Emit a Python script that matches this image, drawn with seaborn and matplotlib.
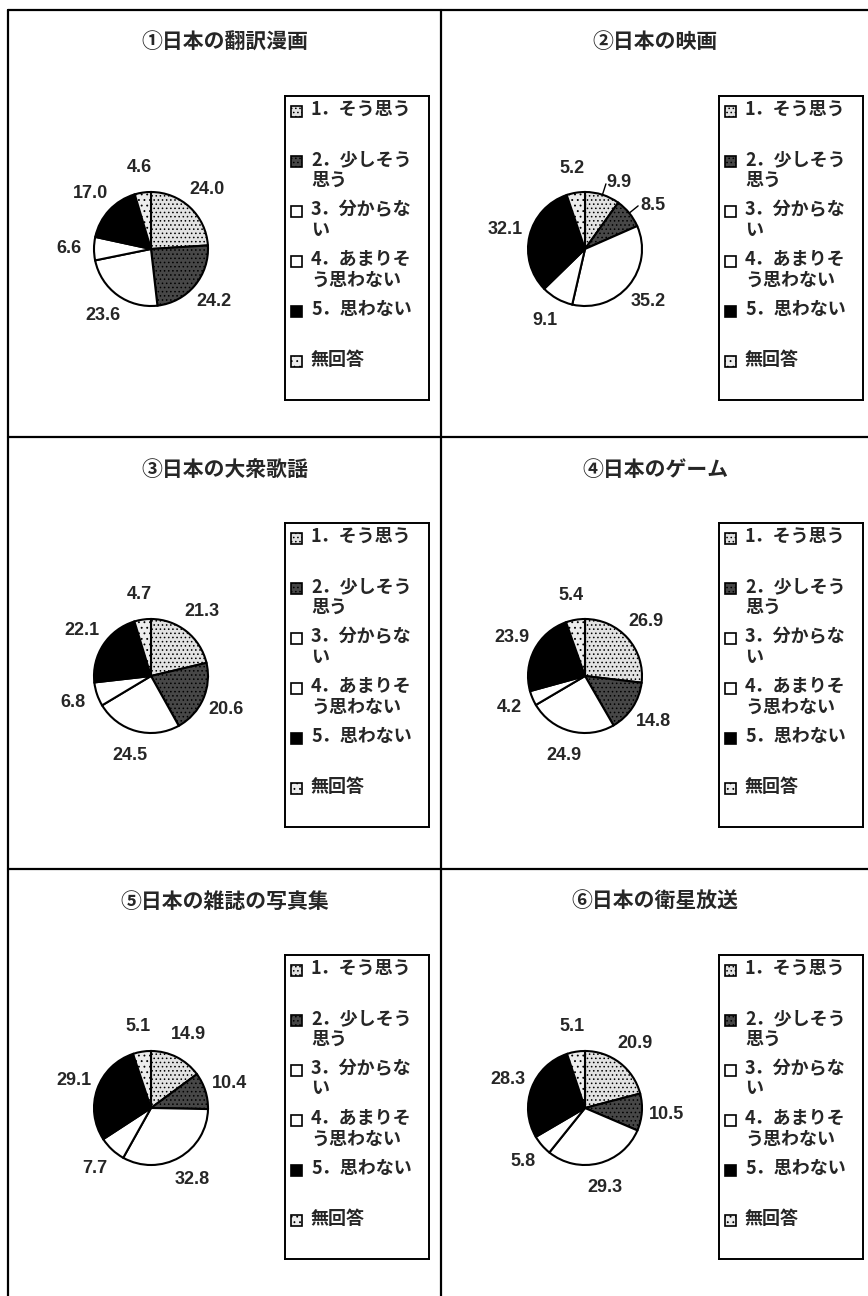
import numpy as np
import matplotlib
matplotlib.use('Agg')
import matplotlib.pyplot as plt
from matplotlib.patches import Rectangle
from matplotlib.lines import Line2D
import seaborn as sns

# survey answers (percent), one list per panel
titles = ['①日本の翻訳漫画', '②日本の映画', '③日本の大衆歌謡',
          '④日本のゲーム', '⑤日本の雑誌の写真集', '⑥日本の衛星放送']
categories = ['1．そう思う', '2．少しそう\n思う', '3．分からな\nい',
              '4．あまりそ\nう思わない', '5．思わない', '無回答']
manga = [24.0, 24.2, 23.6, 6.6, 17.0, 4.6]
movie = [9.9, 8.5, 35.2, 9.1, 32.1, 5.2]
songs = [21.3, 20.6, 24.5, 6.8, 22.1, 4.7]
games = [26.9, 14.8, 24.9, 4.2, 23.9, 5.4]
photo = [14.9, 10.4, 32.8, 7.7, 29.1, 5.1]
satellite = [20.9, 10.5, 29.3, 5.8, 28.3, 5.1]
panels = [manga, movie, songs, games, photo, satellite]

# slices that get a small leader line (panel index -> slice indices)
leaders = {1: [0, 1]}

sns.set_theme(style='white')
plt.rcParams['font.family'] = ['Noto Sans CJK JP', 'DejaVu Sans']
plt.rcParams['hatch.linewidth'] = 0.6

faces = ['#e2e2e2', '#474747', 'white', 'white', 'black', '#ededed']
hatches = ['....', '....', None, None, None, '...']

W, H = 868, 1296
fig = plt.figure(figsize=(W / 100, H / 100), dpi=100)
fig.patch.set_facecolor('white')


def fline(x0, y0, x1, y1):
    fig.add_artist(Line2D([x0 / W, x1 / W], [1 - y0 / H, 1 - y1 / H],
                          color='black', lw=1.6))


# panel frame
fline(8, 10, 868, 10)
fline(8, 10, 8, 1296)
fline(441, 10, 441, 1296)
fline(8, 437, 868, 437)
fline(8, 869, 868, 869)

row_top = [10, 437, 869]
col_pie = [151, 585]
col_title = [225, 655]
col_leg = [285, 719]
leg_w, leg_h = 144, 304
R = 57  # pie radius in px

for i, vals in enumerate(panels):
    r, c = divmod(i, 2)
    top = row_top[r]
    fig.text(col_title[c] / W, 1 - (top + 32) / H, titles[i], ha='center',
             va='center', fontsize=15, fontweight='bold')

    cx, cy = col_pie[c], top + 239
    half = 1.4 * R
    ax = fig.add_axes([(cx - half) / W, 1 - (cy + half) / H, 2 * half / W, 2 * half / H])
    wedges, texts = ax.pie(vals, startangle=90, counterclock=False, colors=faces,
                           labels=[f'{v:.1f}' for v in vals], labeldistance=1.44,
                           wedgeprops=dict(edgecolor='black', linewidth=1.5),
                           textprops=dict(fontsize=13, fontweight='bold',
                                          family=['Liberation Sans', 'DejaVu Sans']))
    for w, h in zip(wedges, hatches):
        if h:
            w.set_hatch(h)
    for t in texts:
        t.set_ha('center')
        t.set_va('center')
    for k in leaders.get(i, []):
        w = wedges[k]
        a = np.deg2rad((w.theta1 + w.theta2) / 2)
        ax.plot([np.cos(a), 1.2 * np.cos(a)], [np.sin(a), 1.2 * np.sin(a)],
                color='black', lw=1)
        texts[k].set_position((1.24 * np.cos(a), 1.22 * np.sin(a)))
        texts[k].set_ha('left')
    ax.set_xlim(-1.4, 1.4)
    ax.set_ylim(-1.4, 1.4)
    ax.axis('off')

    # legend box
    lx, ly = col_leg[c], top + 86
    lax = fig.add_axes([lx / W, 1 - (ly + leg_h) / H, leg_w / W, leg_h / H])
    lax.set_xlim(0, leg_w)
    lax.set_ylim(leg_h, 0)
    lax.set_xticks([])
    lax.set_yticks([])
    for s in lax.spines.values():
        s.set_visible(True)
        s.set_color('black')
        s.set_linewidth(1.4)
    for j, lab in enumerate(categories):
        yrow = 15 + j * 50
        lax.add_patch(Rectangle((6, yrow - 5.5), 11, 11, facecolor=faces[j],
                                edgecolor='black', lw=1.2, hatch=hatches[j]))
        lax.text(26, yrow - 11, lab, ha='left', va='top', fontsize=13,
                 fontweight='bold', linespacing=1.1)

fig.savefig('out.png', dpi=100, facecolor='white')
